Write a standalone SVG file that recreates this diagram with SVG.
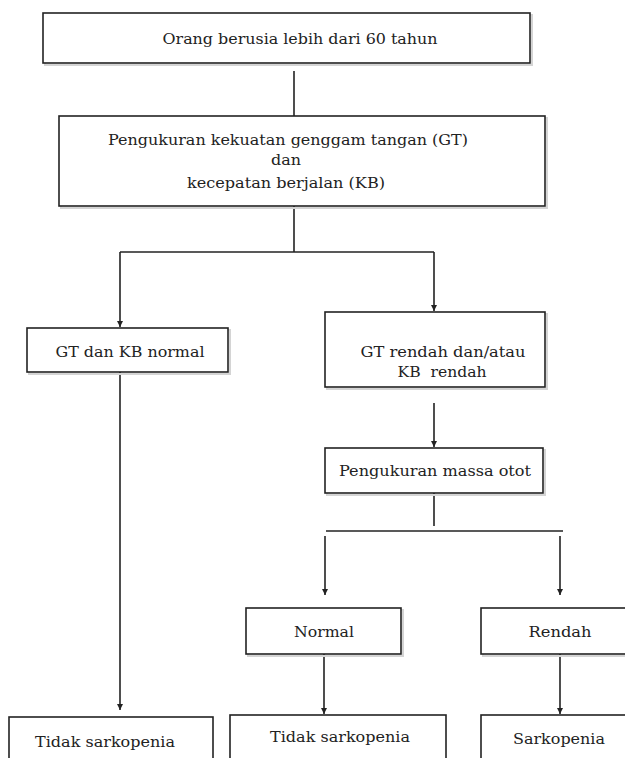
<svg xmlns="http://www.w3.org/2000/svg" width="625" height="758" viewBox="0 0 625 758">
<style>
  .box { fill: #ffffff; stroke: #222222; stroke-width: 1.6; }
  .shadow { fill: none; stroke: #d4d4d4; stroke-width: 2; }
  .lbl { font-family: "DejaVu Serif", "Liberation Serif", serif; font-size: 15px; fill: #222222; text-anchor: middle; }
  .ln { fill: none; stroke: #222222; stroke-width: 1.6; }
  .arr { fill: none; stroke: #222222; stroke-width: 1.6; marker-end: url(#ah); }
</style>
<defs>
  <marker id="ah" markerWidth="8" markerHeight="8" refX="6" refY="3" orient="auto" markerUnits="userSpaceOnUse">
    <path d="M0,0 L6,3 L0,6 Z" fill="#222222"/>
  </marker>
</defs>
<rect width="625" height="758" fill="#ffffff"/>

<g id="connectors">
  <line class="ln" x1="294" y1="71" x2="294" y2="116"/>
  <line class="ln" x1="294" y1="206" x2="294" y2="252"/>
  <polyline class="ln" points="120,252 434,252"/>
  <line class="arr" x1="120" y1="252" x2="120" y2="327"/>
  <line class="arr" x1="434" y1="252" x2="434" y2="311"/>
  <line class="arr" x1="434" y1="403" x2="434" y2="447"/>
  <line class="ln" x1="434" y1="493" x2="434" y2="526"/>
  <line class="ln" x1="326" y1="531" x2="563" y2="531"/>
  <line class="arr" x1="325" y1="536" x2="325" y2="595"/>
  <line class="arr" x1="560" y1="536" x2="560" y2="595"/>
  <line class="arr" x1="120" y1="372" x2="120" y2="710"/>
  <line class="arr" x1="324" y1="654" x2="324" y2="714"/>
  <line class="arr" x1="560" y1="654" x2="560" y2="714"/>
</g>

<g id="node-start">
  <rect class="shadow" x="45" y="15" width="487" height="50"/>
  <rect class="box" x="43" y="13" width="487" height="50"/>
  <text class="lbl" x="300" y="44" textLength="275" lengthAdjust="spacingAndGlyphs">Orang berusia lebih dari 60 tahun</text>
</g>

<g id="node-measure">
  <rect class="shadow" x="61" y="118" width="486" height="90"/>
  <rect class="box" x="59" y="116" width="486" height="90"/>
  <text class="lbl" x="288" y="145" textLength="360" lengthAdjust="spacingAndGlyphs">Pengukuran kekuatan genggam tangan (GT)</text>
  <text class="lbl" x="286" y="165" textLength="30" lengthAdjust="spacingAndGlyphs">dan</text>
  <text class="lbl" x="286" y="188" textLength="198" lengthAdjust="spacingAndGlyphs">kecepatan berjalan (KB)</text>
</g>

<g id="node-normal">
  <rect class="shadow" x="29" y="330" width="201" height="44"/>
  <rect class="box" x="27" y="328" width="201" height="44"/>
  <text class="lbl" x="130" y="357" textLength="149" lengthAdjust="spacingAndGlyphs">GT dan KB normal</text>
</g>

<g id="node-low">
  <rect class="shadow" x="327" y="314" width="220" height="75"/>
  <rect class="box" x="325" y="312" width="220" height="75"/>
  <text class="lbl" x="443" y="357" textLength="165" lengthAdjust="spacingAndGlyphs">GT rendah dan/atau</text>
  <text class="lbl" x="442" y="377" textLength="89" lengthAdjust="spacingAndGlyphs" xml:space="preserve">KB  rendah</text>
</g>

<g id="node-mass">
  <rect class="shadow" x="327" y="450" width="218" height="45"/>
  <rect class="box" x="325" y="448" width="218" height="45"/>
  <text class="lbl" x="435" y="476" textLength="192" lengthAdjust="spacingAndGlyphs">Pengukuran massa otot</text>
</g>

<g id="node-mass-normal">
  <rect class="shadow" x="248" y="610" width="155" height="46"/>
  <rect class="box" x="246" y="608" width="155" height="46"/>
  <text class="lbl" x="324" y="637" textLength="60" lengthAdjust="spacingAndGlyphs">Normal</text>
</g>

<g id="node-mass-low">
  <rect class="shadow" x="483" y="610" width="160" height="46"/>
  <rect class="box" x="481" y="608" width="160" height="46"/>
  <text class="lbl" x="560" y="637" textLength="63" lengthAdjust="spacingAndGlyphs">Rendah</text>
</g>

<g id="node-result-left">
  <rect class="box" x="9" y="717" width="204" height="60"/>
  <text class="lbl" x="105" y="747" textLength="140" lengthAdjust="spacingAndGlyphs">Tidak sarkopenia</text>
</g>

<g id="node-result-mid">
  <rect class="box" x="230" y="715" width="216" height="60"/>
  <text class="lbl" x="340" y="742" textLength="140" lengthAdjust="spacingAndGlyphs">Tidak sarkopenia</text>
</g>

<g id="node-result-right">
  <rect class="box" x="481" y="715" width="160" height="60"/>
  <text class="lbl" x="559" y="744" textLength="92" lengthAdjust="spacingAndGlyphs">Sarkopenia</text>
</g>
</svg>
